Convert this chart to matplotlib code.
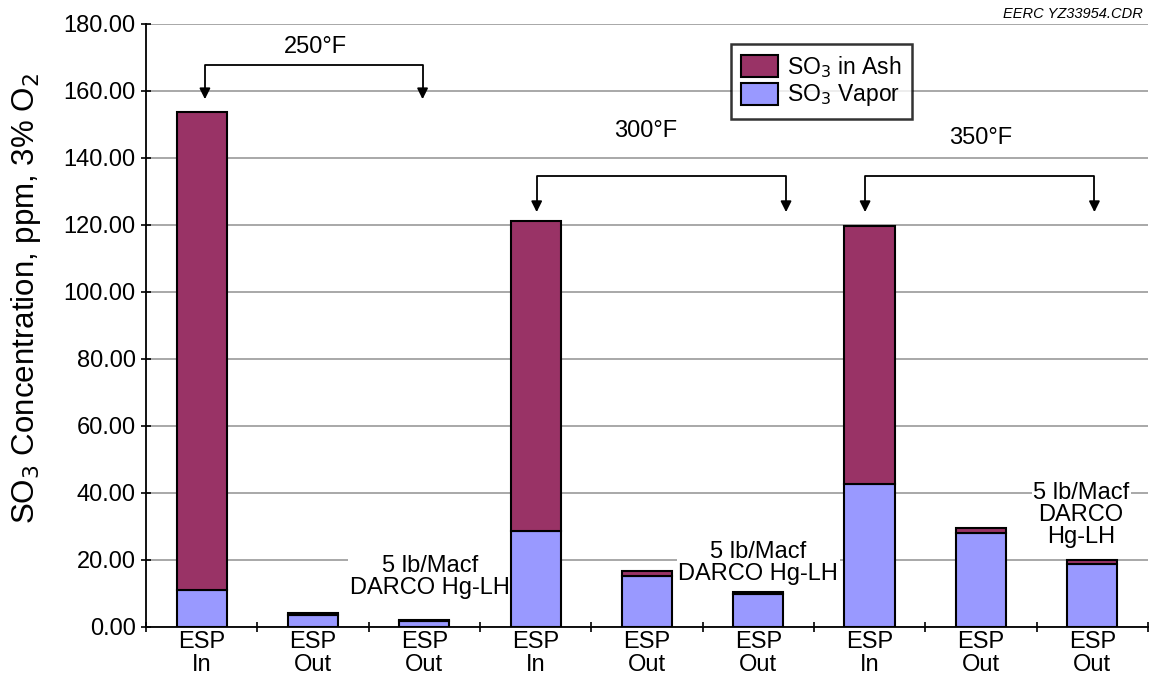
import numpy as np
import matplotlib.pyplot as plt

plt.rcParams['font.family'] = ['Liberation Sans', 'DejaVu Sans']

# data
labels = ['ESP\nIn', 'ESP\nOut', 'ESP\nOut'] * 3
vapor = [11.0, 3.6, 1.7, 28.6, 15.2, 9.8, 42.6, 28.0, 18.8]
ash = [142.8, 0.5, 0.4, 92.7, 1.6, 0.7, 77.1, 1.6, 1.2]
temps = ['250°F', '300°F', '350°F']
ash_color = '#993366'
vapor_color = '#9999ff'

fig = plt.figure(figsize=(11.49, 6.83), dpi=100)
ax = fig.add_axes([0.127, 0.082, 0.872, 0.883])

x = np.arange(len(labels))
ax.bar(x, vapor, width=0.45, color=vapor_color, edgecolor='black', linewidth=1.5,
       label='SO$_3$ Vapor', zorder=3)
ax.bar(x, ash, width=0.45, bottom=vapor, color=ash_color, edgecolor='black',
       linewidth=1.5, label='SO$_3$ in Ash', zorder=3)

ax.set_xlim(-0.47, len(labels) - 0.53)
ax.set_ylim(0, 180)
ax.set_yticks(np.arange(0, 181, 20))
ax.set_yticklabels([f'{v:.2f}' for v in np.arange(0, 181, 20)], fontsize=17)
ax.set_xticks(x)
ax.set_xticklabels(labels, fontsize=17, linespacing=1.05)
ax.set_xticks(np.arange(-0.5, len(labels)), minor=True)
ax.tick_params(axis='x', which='major', length=0, pad=3)
ax.tick_params(axis='x', which='minor', length=7, width=1.2, direction='inout')
ax.tick_params(axis='y', length=7, width=1.2, direction='inout', pad=4)
ax.grid(axis='y', color='#999999', linewidth=1.2, zorder=0)
for s in ['top', 'right']:
    ax.spines[s].set_visible(False)
for s in ['left', 'bottom']:
    ax.spines[s].set_linewidth(1.3)

ax.set_ylabel('SO$_3$ Concentration, ppm, 3% O$_2$', fontsize=22.5)
ax.yaxis.set_label_coords(-0.103, 0.545)

h, l = ax.get_legend_handles_labels()
leg = ax.legend(h[::-1], l[::-1], loc='upper left', bbox_to_anchor=(0.584, 0.967),
                borderaxespad=0, fontsize=16.5, frameon=True, fancybox=False,
                edgecolor='black', handlelength=1.6, handleheight=1.1,
                handletextpad=0.4, labelspacing=0.1, borderpad=0.45)
leg.get_frame().set_linewidth(1.8)

# temperature brackets
brackets = [(0.03, 1.985, 156.7, 167.8, 173.0, 1.02),
            (3.01, 5.25, 123.0, 134.6, 148.0, 3.985),
            (5.96, 8.02, 123.0, 134.6, 146.0, 7.0)]
for (x0, x1, ylo, yhi, yt, xt), t in zip(brackets, temps):
    ax.plot([x0, x0, x1, x1], [ylo + 3, yhi, yhi, ylo + 3], color='black', lw=1.3, zorder=4)
    for xx in (x0, x1):
        ax.annotate('', xy=(xx, ylo), xytext=(xx, ylo + 4),
                    arrowprops=dict(arrowstyle='-|>', color='black', lw=1.3,
                                    mutation_scale=16), zorder=4)
    ax.text(xt, yt, t, ha='center', va='center', fontsize=17, zorder=4)

# sorbent notes
notes = [(2.05, 14.8, '5 lb/Macf\nDARCO Hg-LH'), (5.0, 19.1, '5 lb/Macf\nDARCO Hg-LH'),
         (7.9, 33.4, '5 lb/Macf\nDARCO\nHg-LH')]
for nx_, ny, txt in notes:
    ax.text(nx_, ny, txt, ha='center', va='center', fontsize=17, linespacing=1.0,
            bbox=dict(facecolor='white', edgecolor='none', pad=1), zorder=2)

fig.text(0.995, 0.99, 'EERC YZ33954.CDR', ha='right', va='top', fontsize=10.5,
         style='italic')

fig.savefig('out.png', dpi=100)
